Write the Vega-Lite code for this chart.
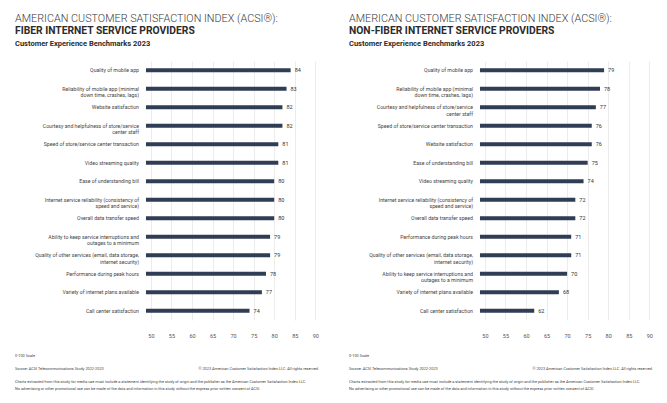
{
  "$schema": "https://vega.github.io/schema/vega-lite/v6.json",
  "padding": {"left": 15, "top": 13, "right": 0, "bottom": 0},
  "background": "white",
  "config": {
    "view": {"stroke": null},
    "font": "Roboto",
    "title": {"anchor": "start", "color": "#2b2b2b"},
    "axisX": {"labelOverlap": false, "labelFlush": false}
  },
  "datasets": {
    "fiber": [
      {"attr": "Quality of mobile app", "score": 84},
      {"attr": "Reliability of mobile app (minimal|down time, crashes, lags)", "score": 83},
      {"attr": "Website satisfaction", "score": 82},
      {"attr": "Courtesy and helpfulness of store/service|center staff", "score": 82},
      {"attr": "Speed of store/service center transaction", "score": 81},
      {"attr": "Video streaming quality", "score": 81},
      {"attr": "Ease of understanding bill", "score": 80},
      {"attr": "Internet service reliability (consistency of|speed and service)", "score": 80},
      {"attr": "Overall data transfer speed", "score": 80},
      {"attr": "Ability to keep service interruptions and|outages to a minimum", "score": 79},
      {"attr": "Quality of other services (email, data storage,|internet security)", "score": 79},
      {"attr": "Performance during peak hours", "score": 78},
      {"attr": "Variety of internet plans available", "score": 77},
      {"attr": "Call center satisfaction", "score": 74}
    ],
    "nonfiber": [
      {"attr": "Quality of mobile app", "score": 79},
      {"attr": "Reliability of mobile app (minimal|down time, crashes, lags)", "score": 78},
      {"attr": "Courtesy and helpfulness of store/service|center staff", "score": 77},
      {"attr": "Speed of store/service center transaction", "score": 76},
      {"attr": "Website satisfaction", "score": 76},
      {"attr": "Ease of understanding bill", "score": 75},
      {"attr": "Video streaming quality", "score": 74},
      {"attr": "Internet service reliability (consistency of|speed and service)", "score": 72},
      {"attr": "Overall data transfer speed", "score": 72},
      {"attr": "Performance during peak hours", "score": 71},
      {"attr": "Quality of other services (email, data storage,|internet security)", "score": 71},
      {"attr": "Ability to keep service interruptions and|outages to a minimum", "score": 70},
      {"attr": "Variety of internet plans available", "score": 68},
      {"attr": "Call center satisfaction", "score": 62}
    ],
    "footer": [
      {"role": "scale", "text": "0-100 Scale"},
      {"role": "source", "text": "Source: ACSI Telecommunications Study 2022-2023"},
      {"role": "copyright", "text": "© 2023 American Customer Satisfaction Index LLC. All rights reserved."},
      {"role": "disclaimer", "text": "Charts extracted from this study for media use must include a statement identifying the study of origin and the publisher as the American Customer Satisfaction Index LLC.|No advertising or other promotional use can be made of the data and information in this study without the express prior written consent of ACSI."}
    ]
  },
  "spacing": 30,
  "hconcat": [
    {
      "title": {"text": "AMERICAN CUSTOMER SATISFACTION INDEX (ACSI®):", "fontSize": 10.8, "fontWeight": 300, "color": "#3a3a3a", "offset": 2},
      "spacing": 15,
      "vconcat": [
        {
          "title": {"text": "FIBER INTERNET SERVICE PROVIDERS", "subtitle": "Customer Experience Benchmarks 2023", "fontSize": 10.3, "fontWeight": "bold", "subtitleFontSize": 7.5, "subtitleFontWeight": "bold", "subtitleColor": "#2b2b2b", "subtitlePadding": 3, "offset": 14},
          "width": 304,
          "height": 259,
          "data": {"name": "fiber"},
          "encoding": {
            "y": {"field": "attr", "type": "nominal", "sort": null, "axis": null, "scale": {"paddingInner": 0, "paddingOuter": 0}}
          },
          "layer": [
            {
              "mark": {"type": "bar", "color": "#2f3d55", "size": 4},
              "encoding": {
                "x": {"field": "score", "type": "quantitative", "scale": {"domain": [16.93, 90.9], "nice": false, "zero": false},
                  "axis": {"values": [50, 55, 60, 65, 70, 75, 80, 85, 90], "labelOverlap": false, "grid": true, "gridColor": "#ececec", "domain": false, "ticks": false, "labelFontSize": 5.5, "labelColor": "#555", "labelPadding": 13, "title": null}},
                "x2": {"datum": 48.8}
              }
            },
            {
              "mark": {"type": "text", "align": "left", "dx": 4, "fontSize": 5.5, "color": "#333"},
              "encoding": {
                "x": {"field": "score", "type": "quantitative",
                  "axis": {"values": [50, 55, 60, 65, 70, 75, 80, 85, 90], "labelOverlap": false, "grid": true, "gridColor": "#ececec", "domain": false, "ticks": false, "labelFontSize": 5.5, "labelColor": "#555", "labelPadding": 13, "title": null}},
                "text": {"field": "score", "type": "quantitative"}
              }
            },
            {
              "mark": {"type": "text", "align": "right", "dx": -7, "fontSize": 5.2, "lineBreak": "|", "lineHeight": 6.5, "color": "#444"},
              "encoding": {
                "x": {"datum": 48.8, "type": "quantitative",
                  "axis": {"values": [50, 55, 60, 65, 70, 75, 80, 85, 90], "labelOverlap": false, "grid": true, "gridColor": "#ececec", "domain": false, "ticks": false, "labelFontSize": 5.5, "labelColor": "#555", "labelPadding": 13, "title": null}},
                "text": {"field": "attr", "type": "nominal"}
              }
            }
          ]
        },
        {
          "width": 304,
          "height": 26,
          "data": {"name": "footer"},
          "layer": [
            {
              "transform": [{"filter": "datum.role !== 'copyright'"}],
              "mark": {"type": "text", "align": "left", "baseline": "top", "fontSize": 3.85, "lineBreak": "|", "lineHeight": 6.5, "color": "#444"},
              "encoding": {
                "x": {"datum": "left", "type": "nominal", "scale": {"domain": ["left", "right"], "padding": 0}, "axis": null},
                "y": {"field": "role", "type": "nominal", "scale": {"type": "point", "domain": ["scale", "source", "disclaimer"], "padding": 0}, "axis": null},
                "text": {"field": "text", "type": "nominal"}
              }
            },
            {
              "transform": [{"filter": "datum.role === 'copyright'"}],
              "mark": {"type": "text", "align": "right", "baseline": "top", "fontSize": 3.85, "color": "#444"},
              "encoding": {
                "x": {"datum": "right", "type": "nominal"},
                "y": {"datum": "source", "type": "nominal"},
                "text": {"field": "text", "type": "nominal"}
              }
            }
          ]
        }
      ]
    },
    {
      "title": {"text": "AMERICAN CUSTOMER SATISFACTION INDEX (ACSI®):", "fontSize": 10.8, "fontWeight": 300, "color": "#3a3a3a", "offset": 2},
      "spacing": 15,
      "vconcat": [
        {
          "title": {"text": "NON-FIBER INTERNET SERVICE PROVIDERS", "subtitle": "Customer Experience Benchmarks 2023", "fontSize": 10.3, "fontWeight": "bold", "subtitleFontSize": 7.5, "subtitleFontWeight": "bold", "subtitleColor": "#2b2b2b", "subtitlePadding": 3, "offset": 14},
          "width": 304,
          "height": 259,
          "data": {"name": "nonfiber"},
          "encoding": {
            "y": {"field": "attr", "type": "nominal", "sort": null, "axis": null, "scale": {"paddingInner": 0, "paddingOuter": 0}}
          },
          "layer": [
            {
              "mark": {"type": "bar", "color": "#2f3d55", "size": 4},
              "encoding": {
                "x": {"field": "score", "type": "quantitative", "scale": {"domain": [16.93, 90.9], "nice": false, "zero": false},
                  "axis": {"values": [50, 55, 60, 65, 70, 75, 80, 85, 90], "labelOverlap": false, "grid": true, "gridColor": "#ececec", "domain": false, "ticks": false, "labelFontSize": 5.5, "labelColor": "#555", "labelPadding": 13, "title": null}},
                "x2": {"datum": 48.8}
              }
            },
            {
              "mark": {"type": "text", "align": "left", "dx": 4, "fontSize": 5.5, "color": "#333"},
              "encoding": {
                "x": {"field": "score", "type": "quantitative",
                  "axis": {"values": [50, 55, 60, 65, 70, 75, 80, 85, 90], "labelOverlap": false, "grid": true, "gridColor": "#ececec", "domain": false, "ticks": false, "labelFontSize": 5.5, "labelColor": "#555", "labelPadding": 13, "title": null}},
                "text": {"field": "score", "type": "quantitative"}
              }
            },
            {
              "mark": {"type": "text", "align": "right", "dx": -7, "fontSize": 5.2, "lineBreak": "|", "lineHeight": 6.5, "color": "#444"},
              "encoding": {
                "x": {"datum": 48.8, "type": "quantitative",
                  "axis": {"values": [50, 55, 60, 65, 70, 75, 80, 85, 90], "labelOverlap": false, "grid": true, "gridColor": "#ececec", "domain": false, "ticks": false, "labelFontSize": 5.5, "labelColor": "#555", "labelPadding": 13, "title": null}},
                "text": {"field": "attr", "type": "nominal"}
              }
            }
          ]
        },
        {
          "width": 304,
          "height": 26,
          "data": {"name": "footer"},
          "layer": [
            {
              "transform": [{"filter": "datum.role !== 'copyright'"}],
              "mark": {"type": "text", "align": "left", "baseline": "top", "fontSize": 3.85, "lineBreak": "|", "lineHeight": 6.5, "color": "#444"},
              "encoding": {
                "x": {"datum": "left", "type": "nominal", "scale": {"domain": ["left", "right"], "padding": 0}, "axis": null},
                "y": {"field": "role", "type": "nominal", "scale": {"type": "point", "domain": ["scale", "source", "disclaimer"], "padding": 0}, "axis": null},
                "text": {"field": "text", "type": "nominal"}
              }
            },
            {
              "transform": [{"filter": "datum.role === 'copyright'"}],
              "mark": {"type": "text", "align": "right", "baseline": "top", "fontSize": 3.85, "color": "#444"},
              "encoding": {
                "x": {"datum": "right", "type": "nominal"},
                "y": {"datum": "source", "type": "nominal"},
                "text": {"field": "text", "type": "nominal"}
              }
            }
          ]
        }
      ]
    }
  ]
}
